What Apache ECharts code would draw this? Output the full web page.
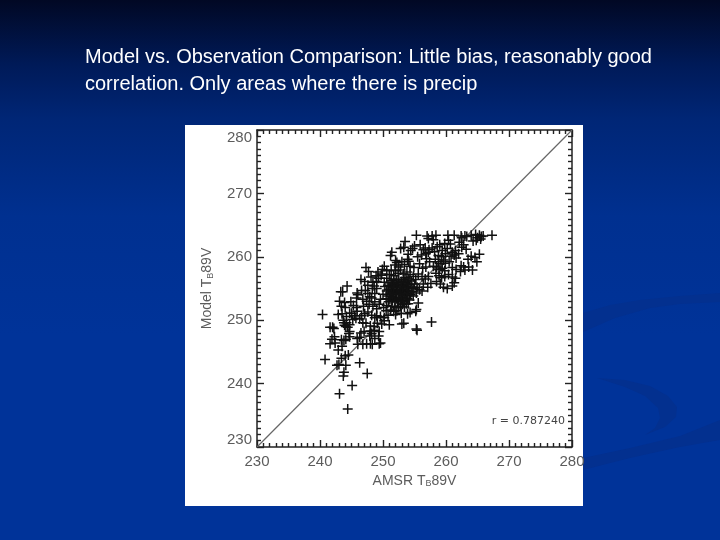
<!DOCTYPE html>
<html>
<head>
<meta charset="UTF-8">
<title>Model vs. Observation</title>
<style>
html,body{margin:0;padding:0;background:#003399;}
#chart{width:720px;height:540px;}
</style>
<script src="https://cdn.jsdelivr.net/npm/echarts@6/dist/echarts.min.js"></script>
</head>
<body>
<div id="chart"></div>
<script>
var headline = 'Model vs. Observation Comparison: Little bias, reasonably good\ncorrelation. Only areas where there is precip';
var correlationNote = 'r = 0.787240';
var axisTicks = [230, 240, 250, 260, 270, 280];
var oneToOne = [[230, 230], [280, 280]];

// [AMSR, Model], region by region
var lowTail = [[244.4,236.0],[243.1,238.4],[245.1,239.7],[243.7,241.2],[243.8,241.8],[247.5,241.6],[246.3,243.3],[240.8,243.8],[242.7,242.9],[243.0,243.0],[244.1,242.9],[244.5,244.5],[244.0,244.4],[243.4,244.0],[242.9,245.3],[243.5,245.9]];

var leftLobe = [[240.4,250.9],[242.9,250.9],[243.5,251.0],[241.6,248.9],[242.0,248.9],[242.2,248.7],[242.3,247.4],[241.9,247.0],[241.6,246.3],[242.4,246.4],[243.4,246.9],[243.8,246.8],[244.1,247.0],[244.7,247.4],[245.9,247.1],[246.3,247.3],[246.0,246.2],[246.8,246.2],[247.4,246.3],[248.0,246.3],[248.3,246.2],[249.4,246.3],[249.6,246.4],[248.7,247.1],[247.9,247.5],[248.2,247.9],[249.3,247.5],[249.4,248.2],[248.6,248.4],[248.0,248.3],[247.0,248.2],[246.5,248.0],[244.7,248.2],[244.6,247.9],[243.9,249.2],[244.1,249.0],[244.4,248.9],[243.8,249.6],[244.2,249.6],[244.7,249.3],[243.7,250.0],[245.2,250.1],[245.7,250.3],[246.3,250.2],[246.8,249.6],[247.3,249.5],[248.0,249.1],[248.6,249.0],[249.1,249.5],[249.8,249.4],[250.2,249.9],[244.2,250.6],[244.7,251.1],[245.0,251.1],[245.5,250.7],[245.9,251.4],[246.6,250.7],[247.1,251.0],[247.6,251.3],[248.2,250.8],[248.7,250.4],[249.0,250.7],[249.6,250.6],[250.2,250.4]];

var midLeft = [[243.3,254.5],[243.6,254.5],[243.1,253.0],[243.9,252.8],[243.4,252.2],[244.0,252.0],[244.3,255.4],[245.3,252.3],[245.8,252.0],[245.9,254.3],[246.0,254.0],[246.6,254.7],[245.8,253.5],[246.5,256.4],[247.3,258.3],[247.7,257.7],[248.1,256.8],[248.4,256.0],[247.6,255.5],[247.2,254.7],[247.6,254.2],[247.9,253.7],[247.4,253.0],[247.8,252.5],[248.4,252.2],[248.7,252.9],[248.2,253.5],[248.7,254.2],[249.0,255.0],[248.6,255.4],[249.0,256.1],[249.3,256.6],[249.7,257.1],[249.2,257.6],[249.9,258.0],[250.3,255.3],[250.0,254.1],[249.6,253.3],[249.4,252.5],[249.0,251.8],[250.1,252.0],[250.5,251.5],[250.8,250.8],[244.9,252.9],[246.9,252.2],[246.8,253.3],[248.9,257.0],[248.3,255.0],[247.1,256.1],[250.6,256.6],[250.2,256.0]];

var denseCore = [[250.6,252.3],[250.9,252.9],[251.2,251.6],[251.4,252.2],[251.7,251.4],[251.9,252.0],[252.2,251.5],[252.5,252.0],[252.8,252.2],[253.1,252.5],[253.4,252.1],[253.7,252.6],[250.5,253.4],[250.8,253.8],[251.1,253.3],[251.3,253.7],[251.5,253.1],[251.7,253.6],[251.9,253.0],[252.1,253.4],[252.3,252.9],[252.5,253.3],[252.7,253.8],[252.9,253.1],[253.1,253.6],[253.3,253.0],[253.5,253.5],[253.7,253.9],[253.9,253.4],[254.2,253.2],[250.6,254.6],[250.9,254.9],[251.1,254.3],[251.3,254.7],[251.5,254.1],[251.7,254.5],[251.9,254.0],[252.1,254.4],[252.3,254.8],[252.5,254.2],[252.7,254.6],[252.9,254.1],[253.1,254.5],[253.3,254.9],[253.5,254.3],[253.7,254.7],[253.9,254.2],[254.1,254.6],[254.4,254.0],[254.6,254.5],[250.8,255.5],[251.1,255.9],[251.3,255.3],[251.5,255.7],[251.7,255.2],[251.9,255.6],[252.1,255.1],[252.3,255.5],[252.5,255.9],[252.7,255.2],[252.9,255.6],[253.1,255.1],[253.3,255.5],[253.5,255.9],[253.7,255.3],[253.9,255.7],[254.1,255.2],[254.3,255.6],[254.6,255.2],[254.9,255.0],[251.3,256.3],[251.7,256.5],[252.1,256.2],[252.5,256.4],[252.9,256.1],[253.2,256.4],[253.5,256.7],[253.8,256.2],[254.1,256.5],[254.5,256.2],[255.0,255.7],[255.4,255.2],[255.8,254.8],[256.2,254.6],[255.3,254.3],[254.8,253.8],[254.0,252.6],[255.6,252.7],[255.3,251.7],[255.2,251.4],[254.3,251.2],[253.9,251.0],[252.9,251.1],[252.0,250.9],[251.0,249.3],[253.0,249.4],[253.3,249.5],[255.3,248.6],[255.4,248.4],[257.7,249.7]];

var upperMiddle = [[249.8,257.3],[250.2,258.5],[250.6,257.8],[251.0,257.2],[251.3,257.9],[251.7,257.0],[252.0,257.8],[252.4,257.4],[252.8,257.9],[253.3,257.3],[253.8,257.6],[254.3,257.2],[254.8,256.9],[251.2,260.2],[251.4,260.7],[252.0,259.4],[252.2,259.1],[251.9,258.7],[252.5,258.4],[253.0,259.2],[253.4,258.8],[253.9,259.6],[254.1,259.3],[254.3,258.5],[254.9,258.3],[252.8,261.3],[253.3,261.5],[253.5,262.4],[254.0,260.4],[254.4,261.0],[254.7,261.3],[255.0,261.7],[255.5,260.0],[255.8,258.9],[256.3,258.2],[256.8,258.4],[255.6,257.3],[256.2,256.9],[256.7,256.5],[257.2,256.9],[257.6,255.8],[257.1,255.2],[256.4,255.7],[255.2,256.4],[256.9,259.7],[257.4,259.2],[256.1,260.3],[255.9,261.9],[256.4,261.1]];

var upperArm = [[255.3,263.4],[257.0,263.3],[257.8,263.3],[258.4,263.4],[257.2,262.9],[258.0,262.7],[256.7,261.4],[257.3,261.1],[257.8,261.4],[258.2,260.8],[256.8,260.5],[257.2,260.7],[258.6,261.6],[259.0,261.9],[259.4,261.0],[259.8,262.1],[260.2,261.3],[258.8,260.2],[259.3,260.0],[259.9,260.5],[258.3,259.6],[258.8,259.2],[259.2,258.9],[259.6,259.5],[258.0,258.5],[258.5,258.4],[258.9,258.0],[259.4,258.2],[259.8,257.8],[258.4,257.4],[258.9,257.0],[259.3,256.7],[259.8,256.9],[260.4,257.2],[258.5,256.1],[259.1,255.7],[259.6,255.2],[260.2,255.0],[261.0,255.4],[261.3,255.9],[261.5,256.6],[261.0,256.8],[260.3,263.4],[261.3,263.4],[262.4,263.3],[263.0,263.3],[263.3,263.2],[264.0,263.4],[264.7,263.5],[265.3,263.4],[265.6,263.2],[265.9,263.3],[267.3,263.4],[265.0,263.0],[265.5,262.8],[262.5,263.0],[264.3,262.5],[264.8,262.6],[260.7,262.0],[261.5,261.0],[262.5,261.5],[262.8,261.9],[263.2,261.2],[261.0,260.7],[261.3,260.3],[260.8,260.1],[262.0,260.5],[261.6,259.8],[264.0,260.1],[264.6,259.9],[265.3,260.4],[264.9,259.2],[262.4,258.6],[262.8,258.4],[263.0,257.9],[263.6,258.4],[264.2,257.9],[262.3,257.7],[261.6,258.0],[261.0,258.3],[260.5,259.2],[259.9,259.0],[262.1,262.3],[260.4,262.6],[263.5,259.6]];

var points = lowTail.concat(leftLobe, midLeft, denseCore, upperMiddle, upperArm);

var plusPath = 'path://M42.5 0h15v42.5h42.5v15H57.5v42.5H42.5V57.5H0V42.5h42.5z';
var inkGrey = '#5c5c5c';
var chart = echarts.init(document.getElementById('chart'));

function boxAxis(extra) {
	var base = {
		type: 'value',
		min: axisTicks[0],
		max: axisTicks[axisTicks.length - 1],
		interval: 10,
		splitLine: {show: false},
		axisLine: {show: true, onZero: false, lineStyle: {color: '#222', width: 1.5}},
		axisTick: {show: true, inside: true, length: 7, lineStyle: {color: '#222', width: 1.4}},
		minorTick: {show: true, splitNumber: 10, length: 4, lineStyle: {color: '#222', width: 1.4}},
		axisLabel: {show: false}
	};
	return Object.assign(base, extra);
}

var tickFont = {show: true, color: inkGrey, fontFamily: 'Liberation Sans', fontSize: 15};
var nameRich = {sub: {fontSize: 9, color: inkGrey, fontFamily: 'Liberation Sans', verticalAlign: 'bottom', padding: [6, 0, 0, 0]}};

chart.setOption({
	animation: false,
	backgroundColor: {
		type: 'linear', x: 0, y: 0, x2: 0, y2: 1,
		colorStops: [
			{offset: 0, color: '#010824'},
			{offset: 0.12, color: '#001a58'},
			{offset: 0.22, color: '#002676'},
			{offset: 0.4, color: '#003090'},
			{offset: 0.62, color: '#003399'},
			{offset: 1, color: '#003399'}
		]
	},
	title: {
		text: headline,
		left: 85,
		top: 44,
		padding: 0,
		textStyle: {color: '#fff', fontFamily: 'Liberation Sans', fontWeight: 'normal', fontSize: 20, lineHeight: 27}
	},
	grid: {left: 257, top: 130, width: 315, height: 317, show: false},
	graphic: [
		{type: 'polygon', z: -20, silent: true, shape: {points: [[583,313],[610,305],[640,300],[680,296],[720,293],[720,302],[680,304],[650,308],[615,318],[583,332]]}, style: {fill: '#03308f'}},
		{type: 'polygon', z: -20, silent: true, shape: {points: [[597,378],[625,380],[650,386],[668,396],[677,407],[676,417],[665,427],[645,435],[655,428],[660,418],[658,408],[645,396],[625,387]]}, style: {fill: '#03308f'}},
		{type: 'polygon', z: -20, silent: true, shape: {points: [[583,458],[630,448],[680,436],[720,420],[720,440],[680,447],[630,458],[583,470]]}, style: {fill: '#03308f'}},
		{type: 'rect', z: -10, silent: true, shape: {x: 185, y: 125, width: 398, height: 381}, style: {fill: '#fff'}},
		{type: 'text', z: 10, silent: true, style: {x: 565, y: 421, text: correlationNote, align: 'right', verticalAlign: 'middle', fill: '#444', font: '11px "DejaVu Sans"'}}
	],
	xAxis: [
		boxAxis({
			position: 'bottom',
			axisLabel: Object.assign({margin: 7}, tickFont),
			name: 'AMSR T{sub|B}89V',
			nameLocation: 'middle',
			nameGap: 25,
			nameTextStyle: {color: inkGrey, fontFamily: 'Liberation Sans', fontSize: 14, rich: nameRich}
		}),
		boxAxis({position: 'top'})
	],
	yAxis: [
		boxAxis({
			position: 'left',
			axisLabel: Object.assign({margin: 5, verticalAlignMinLabel: 'bottom', verticalAlignMaxLabel: 'top'}, tickFont),
			name: 'Model T{sub|B}89V',
			nameLocation: 'middle',
			nameGap: 42,
			nameRotate: 90,
			nameTextStyle: {color: inkGrey, fontFamily: 'Liberation Sans', fontSize: 14, rich: nameRich}
		}),
		boxAxis({position: 'right'})
	],
	series: [
		{
			type: 'line',
			data: oneToOne,
			symbol: 'none',
			silent: true,
			z: 1,
			lineStyle: {color: '#666', width: 1.2}
		},
		{
			type: 'scatter',
			data: points,
			symbol: plusPath,
			symbolSize: 10,
			z: 2,
			itemStyle: {color: '#111', opacity: 1}
		}
	]
});
</script>
</body>
</html>
